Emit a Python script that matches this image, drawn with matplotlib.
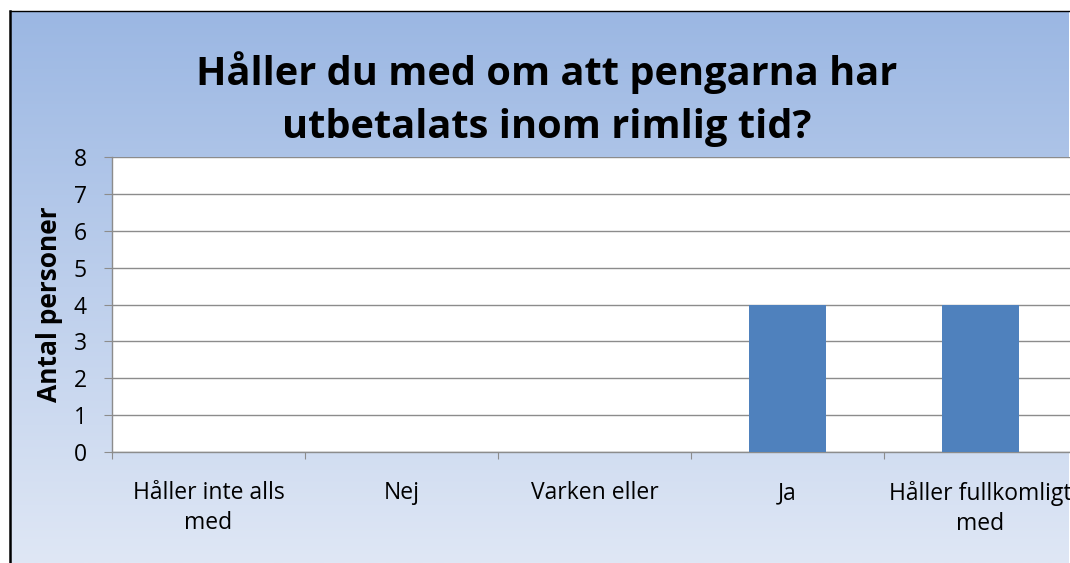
import matplotlib
matplotlib.use("Agg")
import matplotlib.pyplot as plt
import numpy as np
from matplotlib.lines import Line2D

categories = ["Håller inte alls\nmed", "Nej", "Varken eller", "Ja", "Håller fullkomligt\nmed"]
values = [0, 0, 0, 4, 4]
yticks = [0, 1, 2, 3, 4, 5, 6, 7, 8]
title = "Håller du med om att pengarna har\nutbetalats inom rimlig tid?"
ylabel = "Antal personer"

W, H = 1070, 563
fig = plt.figure(figsize=(W/100, H/100), dpi=100)
fig.patch.set_facecolor("white")

# gradient background
bg = fig.add_axes([10/W, 0, (1069 - 10)/W, 1 - 11/H], zorder=0)
top = np.array([155, 183, 227]) / 255
bot = np.array([223, 231, 245]) / 255
t = np.linspace(0, 1, 256)[:, None]
grad = top[None, :] * (1 - t) + bot[None, :] * t
bg.imshow(grad[:, None, :], aspect="auto", extent=[0, 1, 0, 1])
bg.set_axis_off()
fig.lines.append(Line2D([10/W, 10/W], [0, 1 - 10.5/H], transform=fig.transFigure,
                        color="black", linewidth=1.8, zorder=1))
fig.lines.append(Line2D([9.5/W, 1069/W], [1 - 10.5/H, 1 - 10.5/H], transform=fig.transFigure,
                        color="black", linewidth=1.0, zorder=1))

ax = fig.add_axes([112/W, 1 - 452/H, (1077 - 112)/W, (452 - 157)/H], zorder=2)
ax.set_facecolor("white")
x = np.arange(len(categories))
ax.bar(x, values, width=0.4, color="#4f81bd", zorder=3)
ax.set_xlim(-0.5, len(categories) - 0.5)
ax.set_ylim(0, 8)
ax.set_yticks(yticks)
ax.yaxis.grid(True, color="#8c8c8c", linewidth=1.0)
ax.set_axisbelow(True)
for s in ["top", "right"]:
    ax.spines[s].set_visible(False)
for s in ["left", "bottom"]:
    ax.spines[s].set_color("#8c8c8c")
    ax.spines[s].set_linewidth(1.0)
ax.tick_params(axis="y", direction="out", length=6, color="#8c8c8c", labelsize=16.5, pad=12)
ax.set_xticks(np.arange(-0.5, len(categories), 1.0))
ax.set_xticklabels([])
ax.tick_params(axis="x", which="major", direction="out", length=5, color="#8c8c8c")
ax.set_xticks(x, minor=True)
ax.set_xticklabels(categories, minor=True, fontsize=16.5)
ax.tick_params(axis="x", which="minor", length=0, pad=21)
for lab in ax.get_xticklabels(minor=True):
    lab.set_multialignment("center")
    lab.set_linespacing(1.3)
for lab in ax.get_yticklabels() + ax.get_xticklabels(minor=True):
    lab.set_fontfamily("Open Sans")

ax.set_ylabel(ylabel, fontsize=19, fontweight="bold", family="Open Sans", labelpad=8)
fig.text(547/W, 1 - 99/H, title, ha="center", va="center", fontsize=28.6, fontweight="bold",
         family="Open Sans", linespacing=1.45)

fig.savefig("out.png", dpi=100)
